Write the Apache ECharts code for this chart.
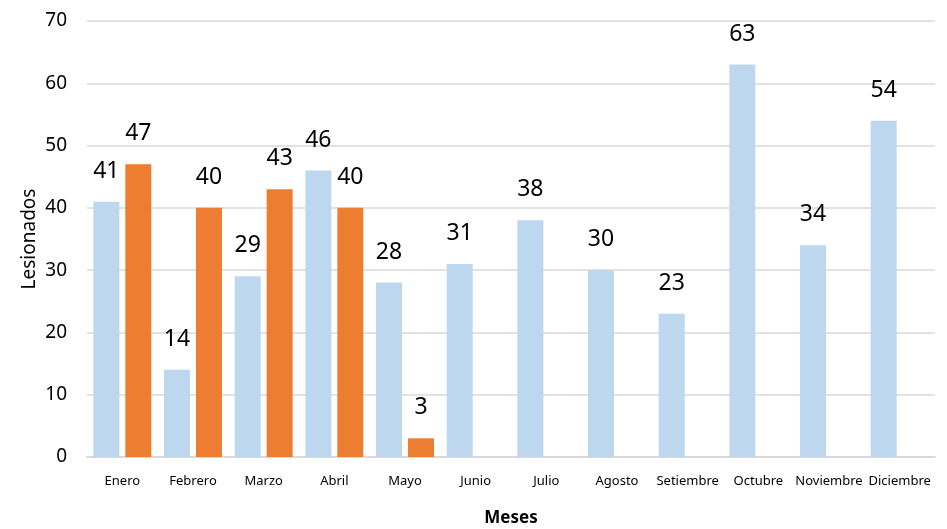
<!DOCTYPE html>
<html>
<head>
<meta charset="utf-8">
<script src="https://cdn.jsdelivr.net/npm/echarts@6/dist/echarts.min.js"></script>
<style>
  html, body { margin: 0; padding: 0; background: #fff; }
  #chart { width: 947px; height: 529px; }
</style>
</head>
<body>
<div id="chart"></div>
<script>
// Monthly injured counts
const months = ['Enero', 'Febrero', 'Marzo', 'Abril', 'Mayo', 'Junio', 'Julio', 'Agosto', 'Setiembre', 'Octubre', 'Noviembre', 'Diciembre'];
const previousYear = [41, 14, 29, 46, 28, 31, 38, 30, 23, 63, 34, 54];
const currentYear = [47, 40, 43, 40, 3, null, null, null, null, null, null, null];
const yTicks = { min: 0, max: 70, interval: 10 };

const font = 'Noto Sans';
const labelStyle = {
  show: true,
  position: 'top',
  distance: 19,
  fontFamily: font,
  fontSize: 23,
  color: '#000'
};

const chart = echarts.init(document.getElementById('chart'));
chart.setOption({
  animation: false,
  grid: { left: 87, right: 12, top: 21, bottom: 72, containLabel: false, outerBoundsMode: 'none' },
  xAxis: {
    type: 'category',
    data: months,
    name: 'Meses',
    nameLocation: 'middle',
    nameGap: 53,
    nameMoveOverlap: false,
    nameTextStyle: { fontFamily: font, fontSize: 17, fontWeight: 'bold', color: '#000' },
    axisLine: { lineStyle: { color: '#d9d9d9', width: 2 } },
    axisTick: { show: false },
    axisLabel: { interval: 0, fontFamily: font, fontSize: 13, color: '#000', margin: 18 }
  },
  yAxis: {
    type: 'value',
    min: yTicks.min,
    max: yTicks.max,
    interval: yTicks.interval,
    name: 'Lesionados',
    nameLocation: 'middle',
    nameGap: 48,
    nameMoveOverlap: false,
    nameTextStyle: { fontFamily: font, fontSize: 19, color: '#000' },
    axisLine: { show: false },
    axisTick: { show: false },
    axisLabel: { fontFamily: font, fontSize: 19, color: '#000', margin: 20 },
    splitLine: { lineStyle: { color: '#d9d9d9', width: 1.5 } }
  },
  series: [
    {
      type: 'bar',
      data: previousYear,
      itemStyle: { color: '#BDD7EE' },
      barGap: '23%',
      barCategoryGap: '18%',
      label: labelStyle
    },
    {
      type: 'bar',
      data: currentYear,
      itemStyle: { color: '#ED7D31' },
      label: labelStyle
    }
  ]
});
</script>
</body>
</html>
